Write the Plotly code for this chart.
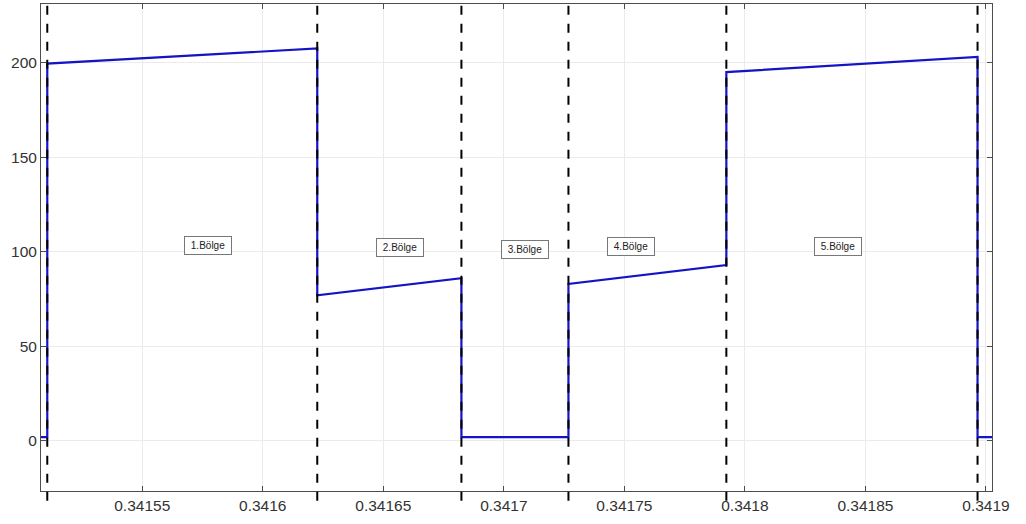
import plotly.graph_objects as go

# Data
x_range = [0.341508, 0.3419025]
y_range = [-26.5, 231]
edges = [0.3415106, 0.3416226, 0.3416824, 0.3417268, 0.3417923, 0.3418965]
t = [0.341508, edges[0], edges[0], edges[1], edges[1], edges[2], edges[2],
     edges[3], edges[3], edges[4], edges[4], edges[5], edges[5], 0.3419025]
v = [2, 2, 199.5, 207.5, 77, 86, 2, 2, 83, 93, 195, 203, 2, 2]

labels = ["1.Bölge", "2.Bölge", "3.Bölge", "4.Bölge", "5.Bölge"]
label_x = [0.3415774, 0.341657, 0.3417089, 0.3417529, 0.3418388]
label_y = [103.2, 102, 101, 103, 103]

x_ticks = [0.34155, 0.3416, 0.34165, 0.3417, 0.34175, 0.3418, 0.34185, 0.3419]
x_ticktext = ["0.34155", "0.3416", "0.34165", "0.3417", "0.34175", "0.3418", "0.34185", "0.3419"]
y_ticks = [0, 50, 100, 150, 200]

fig = go.Figure()
fig.add_trace(go.Scatter(x=t, y=v, mode="lines",
                         line=dict(color="#1414c4", width=2.2),
                         showlegend=False, hoverinfo="skip"))

for e in edges:
    fig.add_shape(type="line", xref="x", yref="paper", x0=e, x1=e, y0=-0.02, y1=1.0,
                  line=dict(color="black", width=2, dash="dash"), layer="above")

for lx, ly, lt in zip(label_x, label_y, labels):
    fig.add_annotation(x=lx, y=ly, text=lt, showarrow=False,
                       font=dict(family="Liberation Sans, Arial", size=10, color="#222"),
                       width=44, height=15, align="center",
                       bordercolor="#777", borderwidth=1, borderpad=1, bgcolor="white")

axis_common = dict(showline=True, linecolor="#4d4d4d", linewidth=1, mirror="ticks",
                   ticks="inside", ticklen=5, tickcolor="#4d4d4d",
                   showgrid=True, gridcolor="#ebebeb", gridwidth=1, zeroline=False,
                   tickfont=dict(family="Liberation Sans, Arial", size=15.5, color="#333"))

fig.update_xaxes(range=x_range, tickvals=x_ticks, ticktext=x_ticktext, **axis_common)
fig.update_yaxes(range=y_range, tickvals=y_ticks, **axis_common)

fig.update_layout(width=1026, height=524, margin=dict(l=41, r=34, t=4, b=33, autoexpand=False),
                  plot_bgcolor="white", paper_bgcolor="white")

fig.write_html("out.html", config={"displayModeBar": False},
               post_script="document.body.style.margin='0';")
